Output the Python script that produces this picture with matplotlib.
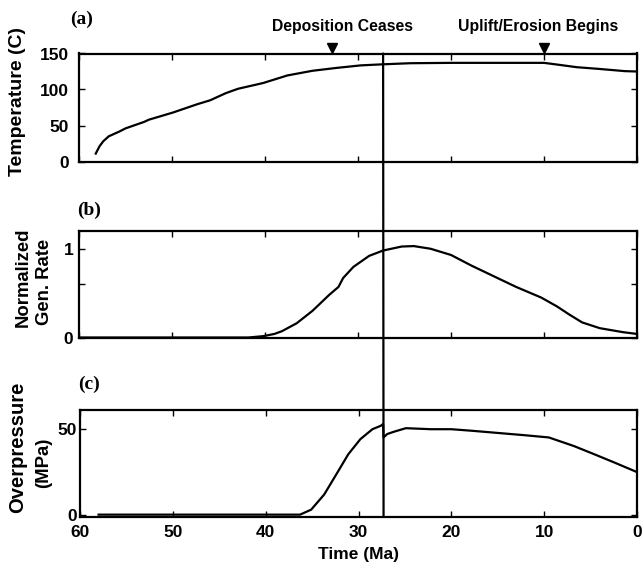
import matplotlib
matplotlib.use("Agg")
import matplotlib.pyplot as plt
from matplotlib.patches import ConnectionPatch

# ---- data ----
temp_t = [58.2, 57.8, 57.4, 56.8, 55.6, 55.0, 53.0, 52.5, 49.9, 47.3, 45.9, 44.2, 42.9, 40.2,
          37.6, 34.9, 32.3, 29.7, 27.3, 24.4, 20.0, 15.6, 10.0, 8.5, 6.5, 4.0, 1.3, 0.0]
temp_v = [11.0, 21.0, 28.0, 35.0, 42.0, 46.0, 55.0, 58.0, 68.0, 79.5, 85.0, 95.0, 101.0, 109.0,
          119.5, 126.0, 130.0, 133.5, 135.0, 136.5, 137.0, 137.0, 137.0, 134.5, 131.0, 128.5, 125.5, 125.0]

gen_t = [60.0, 41.8, 40.2, 39.0, 38.2, 36.6, 34.9, 33.1, 32.1, 31.6, 30.5, 28.8, 27.3, 25.3,
         24.0, 22.2, 20.0, 17.8, 15.6, 13.0, 10.3, 8.6, 7.3, 5.9, 4.0, 1.5, 0.0]
gen_v = [0.0, 0.0, 0.015, 0.04, 0.07, 0.16, 0.30, 0.48, 0.57, 0.67, 0.795, 0.92, 0.98, 1.025,
         1.03, 1.0, 0.93, 0.81, 0.70, 0.57, 0.45, 0.35, 0.26, 0.17, 0.105, 0.06, 0.04]

op_t = [58.0, 36.3, 35.1, 33.7, 32.4, 31.1, 29.8, 28.5, 27.6, 27.35, 27.3, 26.9, 26.2, 24.9,
        22.2, 20.0, 17.8, 15.6, 12.1, 9.5, 6.8, 4.6, 2.4, 0.0]
op_v = [0.0, 0.0, 2.9, 11.7, 23.4, 35.2, 44.0, 49.8, 51.8, 52.8, 45.0, 47.0, 48.3, 50.4,
        49.8, 49.8, 48.9, 47.9, 46.3, 45.0, 40.0, 35.2, 30.3, 24.8]

x_ticks = [60, 50, 40, 30, 20, 10, 0]
marker_times = [32.8, 10.0]
marker_labels = ["Deposition Ceases", "Uplift/Erosion Begins"]
event_time = 27.3

W, H = 644, 568
fig = plt.figure(figsize=(W / 100, H / 100), dpi=100)
plt.rcParams['font.family'] = ['Liberation Sans', 'DejaVu Sans']

def ax_rect(l, t, r, b):
    return [l / W, 1 - b / H, (r - l) / W, (b - t) / H]

ax_a = fig.add_axes(ax_rect(79, 53.5, 637, 161.5))
ax_b = fig.add_axes(ax_rect(79, 231, 637, 337.5))
ax_c = fig.add_axes(ax_rect(80, 410, 637, 516.7))

for ax in (ax_a, ax_b, ax_c):
    ax.set_xlim(60, 0)
    ax.set_xticks(x_ticks)
    for s in ax.spines.values():
        s.set_linewidth(1.6)
    ax.tick_params(direction='in', top=True, right=True, length=4, width=1.0,
                   labelsize=11)

# (a) temperature
ax_a.plot(temp_t, temp_v, color='black', lw=1.6)
ax_a.set_ylim(0, 150)
ax_a.set_yticks([0, 50, 100, 150])
ax_a.set_yticklabels(['0', '50', '100', '150'], fontweight='bold', fontsize=12.5)
ax_a.tick_params(axis='y', pad=7)
ax_a.set_xticklabels([])
for t in marker_times:
    ax_a.plot([t], [157], marker='v', color='black', markersize=7, clip_on=False)

# (b) generation rate
ax_b.plot(gen_t, gen_v, color='black', lw=1.6)
ax_b.set_ylim(0, 1.2)
ax_b.set_yticks([0, 0.6, 1.0])
ax_b.set_yticklabels(['0', '', '1'], fontweight='bold', fontsize=12.5)
ax_b.tick_params(axis='y', pad=4)
ax_b.set_xticklabels([])

# (c) overpressure
ax_c.plot(op_t, op_v, color='black', lw=1.6)
ax_c.set_ylim(-1.2, 61)
ax_c.set_yticks([0, 50])
ax_c.set_yticklabels(['0', '50'], fontweight='bold', fontsize=12.5)
ax_c.tick_params(axis='y', pad=2)
ax_c.set_xticklabels([str(v) for v in x_ticks], fontweight='bold', fontsize=12.5)
ax_c.tick_params(axis='x', pad=6)

# vertical event line through all panels
con = ConnectionPatch(xyA=(event_time, 150), coordsA=ax_a.transData,
                      xyB=(event_time, -1.2), coordsB=ax_c.transData,
                      color='black', lw=1.6)
fig.add_artist(con)

def ftext(x, y, s, **kw):
    fig.text(x / W, 1 - y / H, s, **kw)

# marker labels
ftext(343, 27, marker_labels[0], ha='center', va='center', fontsize=11.3, fontweight='bold')
ftext(538, 27, marker_labels[1], ha='center', va='center', fontsize=11.3, fontweight='bold')

# panel letters
for (x, y, s) in [(82, 19, '(a)'), (89, 210, '(b)'), (89, 384, '(c)')]:
    ftext(x, y, s, ha='center', va='center', fontsize=14, fontweight='bold',
          family='Liberation Serif')

# y labels
ftext(18, 102, 'Temperature (C)', rotation=90, ha='center', va='center', fontsize=14, fontweight='bold')
ftext(23, 277, 'Normalized', rotation=90, ha='center', va='center', fontsize=13.3, fontweight='bold')
ftext(45, 282, 'Gen. Rate', rotation=90, ha='center', va='center', fontsize=13.3, fontweight='bold')
ftext(18, 447, 'Overpressure', rotation=90, ha='center', va='center', fontsize=14.5, fontweight='bold')
ftext(44, 463, '(MPa)', rotation=90, ha='center', va='center', fontsize=13.3, fontweight='bold')

# x label
ftext(358, 554, 'Time (Ma)', ha='center', va='center', fontsize=12.5, fontweight='bold')

fig.savefig('out.png', dpi=100)
